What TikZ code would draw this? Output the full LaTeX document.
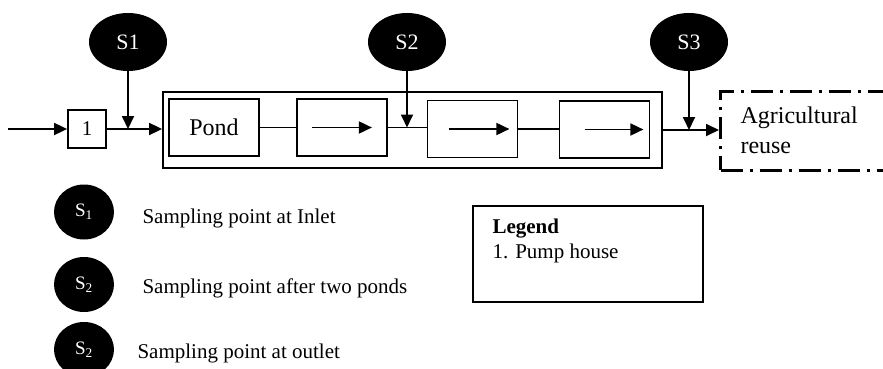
\documentclass[tikz,border=0pt]{standalone}
\usepackage{fontspec}
\setmainfont{Liberation Serif}
\usetikzlibrary{arrows.meta}
\usetikzlibrary{shapes.geometric}
\tikzset{
  flow/.style={line width=1.8pt},
  tip/.style={-{Triangle[length=13pt,width=12pt]}},
  txt/.style={font=\fontsize{21}{25}\selectfont},
  big/.style={font=\fontsize{24}{30}\selectfont},
  tank/.style={draw,line width=1.8pt,minimum width=90pt,minimum height=57pt,inner sep=0pt},
  probe/.style={ellipse,fill=black,text=white,inner sep=0pt,
    minimum width=78pt,minimum height=58pt,font=\fontsize{22}{26}\selectfont},
  keydot/.style={ellipse,fill=black,text=white,inner sep=0pt,
    minimum width=60pt,minimum height=55pt,font=\fontsize{19}{22}\selectfont}
}

\begin{document}
\begin{tikzpicture}[x=1pt,y=-1pt]
\clip (0,0) rectangle (883,369);
\node at (128,42) [probe] (s1) {S1};
\node at (407,42) [probe] (s2) {S2};
\node at (689,42) [probe] (s3) {S3};
\node at (87,129) [draw,line width=1.8pt,minimum width=38pt,minimum height=38pt,inner sep=0pt,txt] (p1) {1};
\node at (412.5,130) [draw,line width=1.8pt,minimum width=499pt,minimum height=76pt,inner sep=0pt] (ponds) {};
\node at (214,127.5) [tank,big] (pond) {Pond};
\node at (342,127.5) [tank] (fac) {};
\node at (472.5,129) [tank] (mat1) {};
\node at (604.5,129.5) [tank] (mat2) {};
\node at (719,130.5) [anchor=west,draw,line width=3pt,dash pattern=on 22pt off 7pt on 3pt off 7pt,
  minimum height=79pt,inner xsep=20pt,text width=200pt,align=left,big] (agri) {Agricultural\\reuse};
\coordinate (in) at (8,129);
\draw[flow,tip] (in) -- (p1);
\draw[flow,tip] (p1.east) -- (p1.east -| ponds.west);
\draw[flow] (pond.east) -- (pond.east -| fac.west);
\draw[flow] (fac.east) -- (fac.east -| mat1.west);
\draw[flow] (mat1.east) -- (mat1.east -| mat2.west);
\draw[flow,tip] (ponds.east) -- (ponds.east -| agri.west);
\draw[flow,tip] ([xshift=16pt]fac.west) -- ([xshift=-16pt]fac.east);
\draw[flow,tip] ([xshift=22pt]mat1.west) -- ([xshift=-9pt]mat1.east);
\draw[flow,tip] ([xshift=26pt]mat2.west) -- ([xshift=-7pt]mat2.east);
\draw[flow,tip] (s1.south) -- (s1.south |- p1);
\draw[flow,tip] (s2.south) -- (s2.south |- fac.east);
\draw[flow,tip] (s3.south) -- (s3.south |- ponds.east);
\node at (84,212) [keydot] (k1) {S\textsubscript{1}};
\node at (84,284.5) [keydot] (k2) {S\textsubscript{2}};
\node at (84,349.5) [keydot] (k3) {S\textsubscript{2}};
\node at (139,223) [anchor=base west,txt] (d1) {Sampling point at Inlet};
\node at (139,293) [anchor=base west,txt] (d2) {Sampling point after two ponds};
\node at (134,358) [anchor=base west,txt] (d3) {Sampling point at outlet};
\node at (472,205) [anchor=north west,draw,line width=1.8pt,minimum width=230pt,minimum height=96pt] (legend) {};
\node at (489,233) [anchor=base west,txt] (leghead) {\textbf{Legend}};
\node at (489,258) [anchor=base west,txt] (legitem) {1. Pump house};
\end{tikzpicture}
\end{document}
